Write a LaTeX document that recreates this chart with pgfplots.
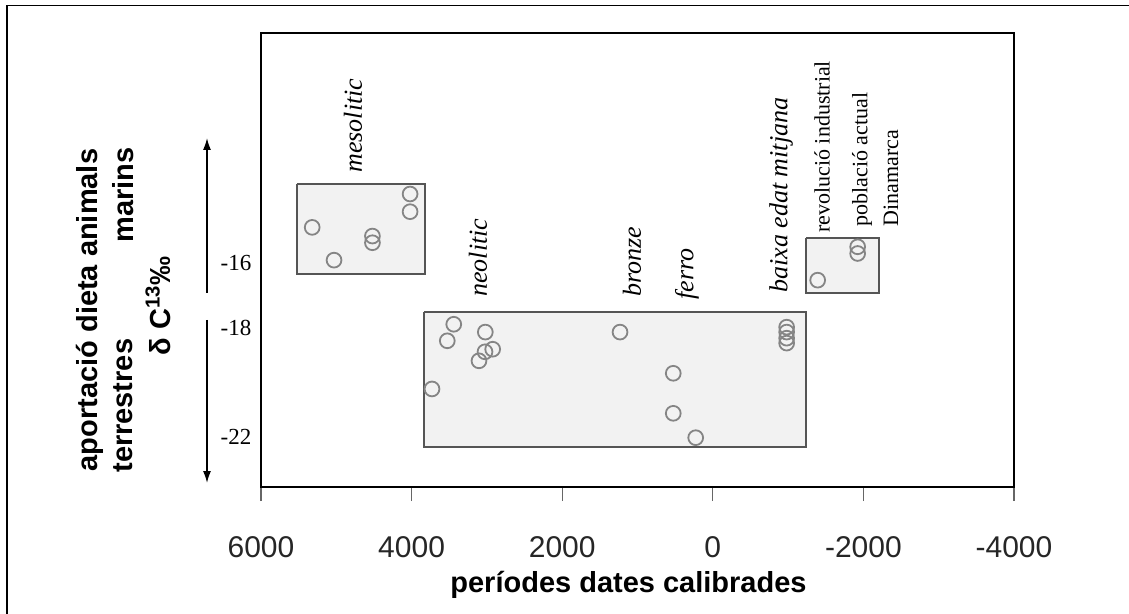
\documentclass[border=0pt]{standalone}
\usepackage{fontspec}
\setmainfont{Liberation Serif}
\newfontfamily\arial{Liberation Sans}
\usepackage{pgfplots}
\pgfplotsset{compat=1.18}
\usetikzlibrary{arrows.meta}
\definecolor{boxfill}{HTML}{F2F2F2}
\definecolor{boxline}{HTML}{555555}
\definecolor{circ}{HTML}{858585}

\begin{document}
\begin{tikzpicture}
\begin{axis}[
    at={(130.5pt,-243.5pt)}, anchor=south west,
    scale only axis, width=376.5pt, height=227pt,
    xmin=-4000, xmax=6000, x dir=reverse,
    ymin=-23.72, ymax=-8.07,
    axis line style={line width=1pt},
    xtick={-4000,-2000,0,2000,4000,6000},
    xticklabels={-4000,-2000,0,2000,4000,6000},
    xtick pos=bottom, tick align=outside, major tick length=7pt,
    tick style={black!60, line width=0.6pt},
    ytick=\empty,
    xticklabel style={font=\arial\fontsize{15}{18}\selectfont, anchor=base, yshift=-28pt, text=black!85},
    xlabel={períodes dates calibrades},
    xlabel style={font=\arial\bfseries\fontsize{14.5}{17}\selectfont,
        at={(axis description cs:0.5,0)}, anchor=base, yshift=-52.5pt, xshift=-4.5pt},
]
% period boxes
\addplot[fill=boxfill, draw=boxline, line width=0.75pt] coordinates {(5522,-13.28) (3822,-13.28) (3822,-16.38) (5522,-16.38) (5522,-13.28)};
\addplot[fill=boxfill, draw=boxline, line width=0.75pt] coordinates {(3835,-17.69) (-1238,-17.69) (-1238,-22.34) (3835,-22.34) (3835,-17.69)};
\addplot[fill=boxfill, draw=boxline, line width=0.75pt] coordinates {(-1238,-15.14) (-2207,-15.14) (-2207,-17.03) (-1238,-17.03) (-1238,-15.14)};
% samples
\addplot[only marks, mark=o, mark size=3.7pt, mark options={draw=circ, line width=0.9pt}] coordinates {
    (4020,-13.62) (4020,-14.23) (5320,-14.77) (4520,-15.07) (4520,-15.30) (5030,-15.90)
    (3440,-18.11) (3526,-18.68) (3021,-18.38) (2923,-18.97) (3025,-19.06) (3105,-19.37) (3729,-20.34)
    (1232,-18.38)
    (525,-19.80) (525,-21.18) (227,-22.02)
    (-981,-18.21) (-981,-18.38) (-981,-18.59) (-981,-18.76)
    (-1924,-15.44) (-1924,-15.67) (-1393,-16.59)
};
\end{axis}

\begin{scope}[x=0.5pt, y=-0.5pt]
    \draw[line width=0.75pt] (7,614) -- (7,5.5) -- (1129,5.5);
    % y description
    \begin{scope}[every node/.style={rotate=90, inner sep=0pt, font=\arial\bfseries\fontsize{14.5}{17}\selectfont}]
        \node at (90,310) {aportació dieta animals};
        \node[anchor=west] at (123,473) {terrestres};
        \node[anchor=east] at (123,147) {marins};
        \node at (158,306) {δ C\textsuperscript{13}‰};
    \end{scope}
    \draw[line width=0.75pt, -{Latex[length=6pt,width=4pt]}] (207,293) -- (207,138);
    \draw[line width=0.75pt, -{Latex[length=6pt,width=4pt]}] (207,320) -- (207,483);
    \begin{scope}[every node/.style={inner sep=0pt, font=\fontsize{11.5}{14}\selectfont}]
        \node at (236,263) {-16};
        \node at (236,328) {-18};
        \node at (236,437) {-22};
    \end{scope}
    % period names
    \begin{scope}[every node/.style={rotate=90, anchor=west, inner sep=0pt, font=\itshape\fontsize{13}{15}\selectfont}]
        \node at (353,173) {mesolitic};
        \node at (478,297) {neolitic};
        \node at (632,297) {bronze};
        \node at (687,300) {ferro};
        \node at (781,293) {baixa edat mitjana};
    \end{scope}
    \begin{scope}[every node/.style={rotate=90, anchor=west, inner sep=0pt, font=\fontsize{11}{13}\selectfont}]
        \node at (822,233) {revolució industrial};
        \node at (862,227) {població actual};
        \node at (891,227) {Dinamarca};
    \end{scope}
\end{scope}
\pgfresetboundingbox
\useasboundingbox (0,0) rectangle (564.5pt,-307pt);
\end{tikzpicture}
\end{document}
